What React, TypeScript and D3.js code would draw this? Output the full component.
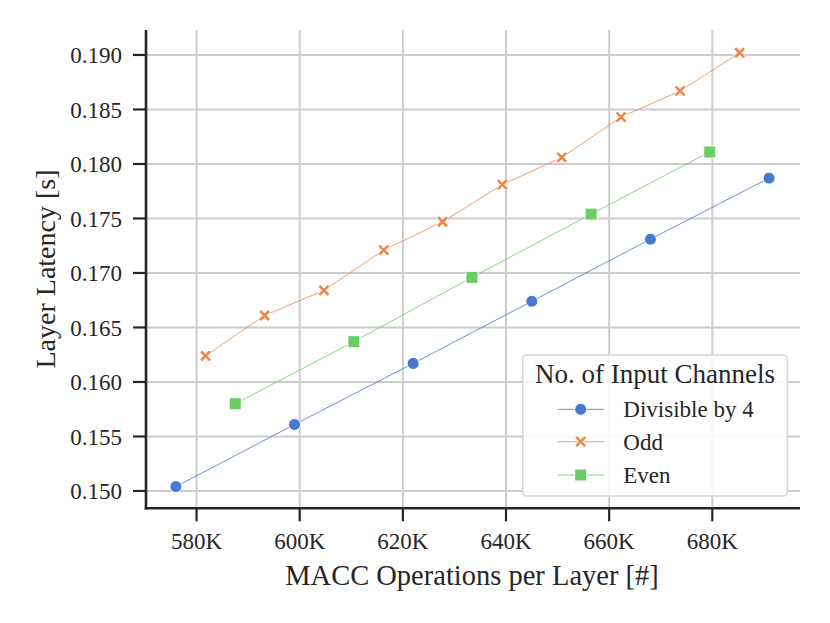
import * as d3 from 'd3'

const W = 830
const H = 623

// MACC ops per layer (#) and layer latency (s)
const div4X = [576000, 599000, 622000, 645000, 668000, 691000]
const div4Y = [0.1504, 0.1561, 0.1617, 0.1674, 0.1731, 0.1787]

const oddX = [581750, 593200, 604700, 616300, 627700, 639300, 650800, 662300, 673750, 685300]
const oddY = [0.1624, 0.1661, 0.1684, 0.1721, 0.1747, 0.1781, 0.1806, 0.1843, 0.1867, 0.1902]

const evenX = [587500, 610500, 633400, 656500, 679500]
const evenY = [0.1580, 0.1637, 0.1696, 0.1754, 0.1811]

const xTicks = [580000, 600000, 620000, 640000, 660000, 680000]
const yTicks = [0.150, 0.155, 0.160, 0.165, 0.170, 0.175, 0.180, 0.185, 0.190]

const BLUE = '#4878d0'
const ORANGE = '#ee854a'
const GREEN = '#6acc64'
const FONT = '"Liberation Serif", "Times New Roman", serif'
const INK = '#262626'

const series = [
  { name: 'Divisible by 4', xs: div4X, ys: div4Y, color: BLUE, marker: 'circle' },
  { name: 'Odd', xs: oddX, ys: oddY, color: ORANGE, marker: 'x' },
  { name: 'Even', xs: evenX, ys: evenY, color: GREEN, marker: 'square' },
]

function Marker({ kind, cx, cy, color }: { kind: string; cx: number; cy: number; color: string }) {
  if (kind === 'circle') {
    return <circle cx={cx} cy={cy} r={6} fill={color} stroke="#fff" strokeWidth={1} />
  }
  if (kind === 'square') {
    return <rect x={cx - 6} y={cy - 6} width={12} height={12} fill={color} stroke="#fff" strokeWidth={1} />
  }
  const s = 4.5
  const d = `M${cx - s},${cy - s}L${cx + s},${cy + s}M${cx - s},${cy + s}L${cx + s},${cy - s}`
  return (
    <g>
      <path d={d} stroke="#fff" strokeWidth={4.5} fill="none" />
      <path d={d} stroke={color} strokeWidth={2.6} fill="none" />
    </g>
  )
}

export default function App() {
  const left = 146, right = 800, top = 30, bottom = 508.3

  const x = d3.scaleLinear().domain([570200, 697000]).range([left, right])
  const y = d3.scaleLinear().domain([0.14841, 0.19229]).range([bottom, top])

  const line = d3.line<[number, number]>()
    .x(d => x(d[0]))
    .y(d => y(d[1]))

  const lg = { x: 522.7, y: 355, w: 264.6, h: 141 }
  const rowY = [409.3, 441.7, 475]

  return (
    <svg width={W} height={H} style={{ position: 'absolute', left: 0, top: 0, background: '#fff' }}>
      {/* grid */}
      {xTicks.map(t => (
        <line key={'gx' + t} x1={x(t)} x2={x(t)} y1={top} y2={bottom} stroke="#cccccc" strokeWidth={2} />
      ))}
      {yTicks.map(t => (
        <line key={'gy' + t} x1={left} x2={right} y1={y(t)} y2={y(t)} stroke="#cccccc" strokeWidth={2} />
      ))}

      {/* series */}
      {series.map(s => (
        <path key={s.name} d={line(s.xs.map((v, i) => [v, s.ys[i]] as [number, number])) || ''}
          fill="none" stroke={s.color} strokeWidth={1} opacity={0.8} />
      ))}
      {series.map(s => s.xs.map((v, i) => (
        <Marker key={s.name + i} kind={s.marker} cx={x(v)} cy={y(s.ys[i])} color={s.color} />
      )))}

      {/* axes */}
      <line x1={left} x2={left} y1={top} y2={bottom + 1.3} stroke={INK} strokeWidth={2.6} />
      <line x1={left - 1.3} x2={right} y1={bottom} y2={bottom} stroke={INK} strokeWidth={2.6} />
      {xTicks.map(t => (
        <g key={'tx' + t}>
          <line x1={x(t)} x2={x(t)} y1={bottom} y2={bottom + 13} stroke={INK} strokeWidth={2.2} />
          <text x={x(t)} y={548.5} textAnchor="middle" fontFamily={FONT} fontSize={23} fill={INK}>
            {d3.format('d')(t / 1000)}K
          </text>
        </g>
      ))}
      {yTicks.map(t => (
        <g key={'ty' + t}>
          <line x1={left - 13} x2={left} y1={y(t)} y2={y(t)} stroke={INK} strokeWidth={2.2} />
          <text x={122} y={y(t)} dy="0.35em" textAnchor="end" fontFamily={FONT} fontSize={23} fill={INK}>
            {d3.format('.3f')(t)}
          </text>
        </g>
      ))}

      <text x={472} y={585} textAnchor="middle" fontFamily={FONT} fontSize={28.5} fill={INK}>
        MACC Operations per Layer [#]
      </text>
      <text transform={`translate(55,269) rotate(-90)`} textAnchor="middle" fontFamily={FONT} fontSize={28} fill={INK}>
        Layer Latency [s]
      </text>

      {/* legend */}
      <rect x={lg.x} y={lg.y} width={lg.w} height={lg.h} rx={4} fill="#fff" fillOpacity={0.85}
        stroke="#d6d6d6" strokeWidth={1.6} />
      <text x={lg.x + lg.w / 2} y={383.3} textAnchor="middle" fontFamily={FONT} fontSize={27} fill={INK}>
        No. of Input Channels
      </text>
      {series.map((s, i) => (
        <g key={'lg' + s.name}>
          <line x1={557.7} x2={604} y1={rowY[i]} y2={rowY[i]} stroke={s.color} strokeWidth={1} opacity={0.8} />
          <Marker kind={s.marker} cx={580.7} cy={rowY[i]} color={s.color} />
          <text x={623.3} y={rowY[i]} dy="0.35em" fontFamily={FONT} fontSize={23} fill={INK}>{s.name}</text>
        </g>
      ))}
    </svg>
  )
}
